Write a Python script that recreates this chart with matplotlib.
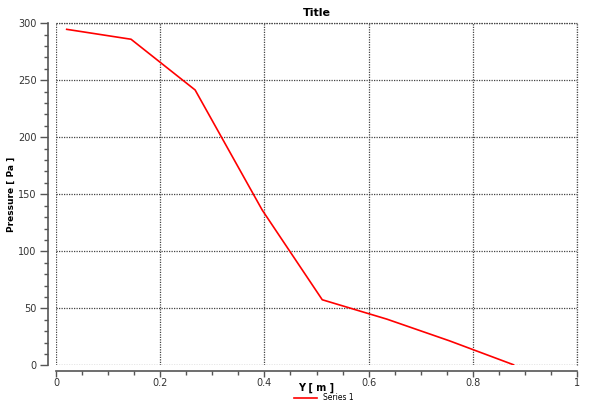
import matplotlib
matplotlib.use("Agg")
import matplotlib.pyplot as plt
from matplotlib.ticker import MultipleLocator

# Pressure profile along Y
y_pos = [0.0205, 0.144, 0.267, 0.396, 0.511, 0.635, 0.755, 0.878]
pressure = [294.7, 286.0, 241.5, 136.0, 57.5, 40.5, 21.5, 0.5]

fig = plt.figure(figsize=(5.89, 4.05), dpi=100)
ax = fig.add_axes([0.0951, 0.098, 0.8846, 0.8445])

ax.plot(y_pos, pressure, color="red", linewidth=1.2, label="Series 1")

ax.set_xlim(0, 1)
ax.set_ylim(0, 300)
ax.xaxis.set_major_locator(MultipleLocator(0.2))
ax.xaxis.set_minor_locator(MultipleLocator(0.05))
ax.yaxis.set_major_locator(MultipleLocator(50))
ax.yaxis.set_minor_locator(MultipleLocator(10))
ax.xaxis.set_major_formatter(plt.FuncFormatter(lambda v, p: f"{v:g}"))

# axes lines pushed out slightly, no box
for side in ["top", "right"]:
    ax.spines[side].set_visible(False)
ax.spines["left"].set_position(("outward", 6))
ax.spines["bottom"].set_position(("outward", 4))
for side in ["left", "bottom"]:
    ax.spines[side].set_color("#555555")
    ax.spines[side].set_linewidth(1.2)

ax.tick_params(axis="y", which="major", length=6, width=1, color="#555555", labelsize=7, labelcolor="#333333", pad=2)
ax.tick_params(axis="x", which="major", length=4, width=1, color="#555555", labelsize=7, labelcolor="#333333", pad=1)
ax.tick_params(which="minor", length=3, width=1, color="#555555")

grid_style = dict(color="#444444", linestyle=(0, (1, 1)), linewidth=0.9)
ax.grid(True, which="major", **grid_style)
ax.axvline(1, clip_on=False, **grid_style)
ax.axhline(300, clip_on=False, **grid_style)
ax.set_axisbelow(True)

ax.set_title("Title", fontsize=8, fontweight="bold", pad=5)
ax.set_xlabel("Y [ m ]", fontsize=7, fontweight="bold")
ax.set_ylabel("Pressure [ Pa ]", fontsize=6.5, fontweight="bold")
ax.xaxis.set_label_coords(0.5, -0.052)
ax.yaxis.set_label_coords(-0.077, 0.5)

fig.legend(loc="center", bbox_to_anchor=(0.55, 0.018), frameon=False, fontsize=5.5,
           handlelength=3, handletextpad=0.8)

plt.savefig("out.png", dpi=100)
